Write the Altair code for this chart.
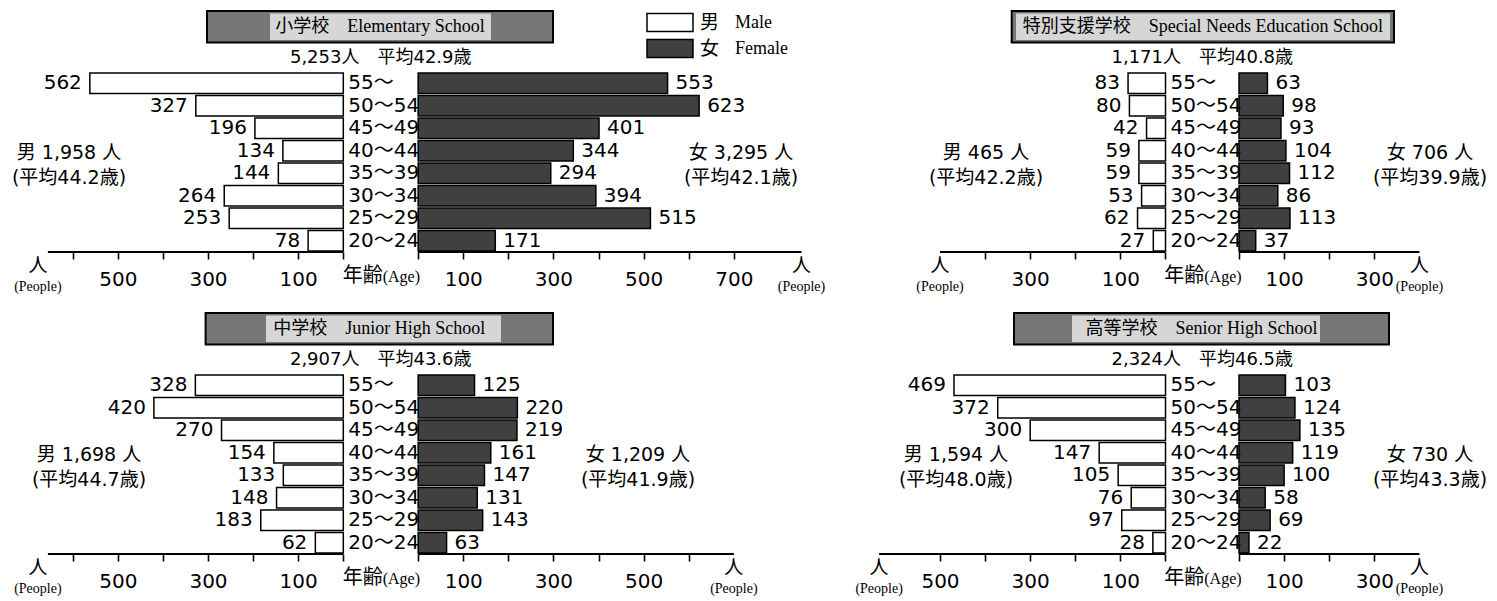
import altair as alt
import pandas as pd

# ---------------- data ----------------
AGES = ["55～", "50～54", "45～49", "40～44", "35～39", "30～34", "25～29", "20～24"]

ELEM_M = [562, 327, 196, 134, 144, 264, 253, 78]
ELEM_F = [553, 623, 401, 344, 294, 394, 515, 171]
SPEC_M = [83, 80, 42, 59, 59, 53, 62, 27]
SPEC_F = [63, 98, 93, 104, 112, 86, 113, 37]
JUN_M = [328, 420, 270, 154, 133, 148, 183, 62]
JUN_F = [125, 220, 219, 161, 147, 131, 143, 63]
SEN_M = [469, 372, 300, 147, 105, 76, 97, 28]
SEN_F = [103, 124, 135, 119, 100, 58, 69, 22]

TITLES_JP = ["小学校", "特別支援学校", "中学校", "高等学校"]
TITLES_EN = ["Elementary School", "Special Needs Education School",
             "Junior High School", "Senior High School"]
SUBTITLES = ["5,253人　平均42.9歳", "1,171人　平均40.8歳",
             "2,907人　平均43.6歳", "2,324人　平均46.5歳"]
MALE_TOTAL = ["男 1,958 人", "男 465 人", "男 1,698 人", "男 1,594 人"]
MALE_AVG = ["(平均44.2歳)", "(平均42.2歳)", "(平均44.7歳)", "(平均48.0歳)"]
FEMALE_TOTAL = ["女 3,295 人", "女 706 人", "女 1,209 人", "女 730 人"]
FEMALE_AVG = ["(平均42.1歳)", "(平均39.9歳)", "(平均41.9歳)", "(平均43.3歳)"]

# axis extents (people) and last tick, per panel: (male, female)
AXIS_EXT = [(655, 850), (500, 400), (655, 700), (635, 400)]
TICK_MAX = [(600, 700), (400, 300), (600, 600), (500, 300)]

# ---------------- layout ----------------
K = 0.451  # px per person
COLS = {
    "L": dict(x0=40.0, x1=812.0, xm=343.3, g=166),
    "R": dict(x0=870.0, x1=1440.0, xm=1165.5, g=163),
}
ROW_TOP = {"T": 71.5, "B": 373.5}
PLOT_H = 180

PANELS = [
    dict(col="L", row="T", m=ELEM_M, f=ELEM_F, box=(207, 553), inner=(270, 491),
         mx=69, fx=741, pdx=-10, legend=True),
    dict(col="R", row="T", m=SPEC_M, f=SPEC_F, box=(1011.7, 1394), inner=(1016, 1390),
         mx=986, fx=1430, pdx=0, legend=False),
    dict(col="L", row="B", m=JUN_M, f=JUN_F, box=(205.6, 553), inner=(266, 501),
         mx=89, fx=638, pdx=-10, legend=False),
    dict(col="R", row="B", m=SEN_M, f=SEN_F, box=(1014, 1389), inner=(1072, 1320),
         mx=956, fx=1430, pdx=0, legend=False),
]

ONE = pd.DataFrame({"k": [0]})
FONT_NUM = "DejaVu Sans, Noto Sans CJK JP"
FONT_SERIF = "Liberation Serif, Noto Sans CJK JP"
FONT_JP = "Noto Sans CJK JP"
FEMALE_FILL = "#404040"


def txt(text, x, y, font, size, align="center", baseline="middle"):
    return alt.Chart(ONE).mark_text(
        text=text, font=font, fontSize=size, align=align, baseline=baseline, color="black"
    ).encode(x=alt.value(x), y=alt.value(y))


def box(x0, y0, x1, y1, fill, stroke=None, sw=0.0):
    kw = dict(fill=fill)
    if stroke:
        kw.update(stroke=stroke, strokeWidth=sw)
    else:
        kw.update(strokeWidth=0)
    return alt.Chart(ONE).mark_rect(**kw).encode(
        x=alt.value(x0), x2=alt.value(x1), y=alt.value(y0), y2=alt.value(y1)
    )


def panel(i):
    p = PANELS[i]
    c = COLS[p["col"]]
    top = ROW_TOP[p["row"]]
    x0, x1, xm, g = c["x0"], c["x1"], c["xm"], c["g"]
    dmin = -(xm - x0) / K
    dmax = (x1 - xm) / K
    width = x1 - x0
    ext_m, ext_f = AXIS_EXT[i]
    tm, tf = TICK_MAX[i]

    def rx(ax):  # absolute px -> plot-relative px
        return ax - x0

    def ry(ay):
        return ay - top

    xs = alt.Scale(domain=[dmin, dmax], nice=False, zero=False)
    ys = alt.Scale(domain=[-0.5, 7.5], reverse=True, nice=False, zero=False)

    df = pd.DataFrame({"age": AGES, "row": list(range(8)), "m": p["m"], "f": p["f"]})

    ticks = [-v for v in range(100, tm + 1, 100)] + [0, g] + [g + v for v in range(100, tf + 1, 100)]
    label_expr = (
        f"datum.value < 0 ? ((-datum.value) % 200 == 100 ? format(-datum.value, 'd') : '') : "
        f"((datum.value - {g}) % 200 == 100 ? format(datum.value - {g}, 'd') : '')"
    )
    axis = alt.Axis(values=ticks, labelExpr=label_expr, domain=False, grid=False,
                    ticks=True, tickSize=7, tickWidth=1.6, tickColor="black",
                    labels=True, labelFont="DejaVu Sans", labelFontSize=20, labelColor="black",
                    labelPadding=10, labelFlush=False, labelOverlap=False, title=None,
                    orient="bottom")

    def X(field):
        return alt.X(field, scale=xs, axis=axis)

    def Y(field):
        return alt.Y(field, scale=ys, axis=None)

    base = alt.Chart(df).transform_calculate(
        xm_="-datum.m", z="0", gf=str(g), xf_=f"{g} + datum.f",
        y0="datum.row - 0.46", y1="datum.row + 0.46"
    )

    male_bars = base.mark_rect(fill="white", stroke="black", strokeWidth=1.5).encode(
        x=X("xm_:Q"), x2="z:Q", y=Y("y0:Q"), y2="y1:Q",
    )
    female_bars = base.mark_rect(fill=FEMALE_FILL, stroke="black", strokeWidth=1.5).encode(
        x=X("gf:Q"), x2="xf_:Q", y=Y("y0:Q"), y2="y1:Q",
    )
    male_lab = base.mark_text(align="right", baseline="middle", dx=-8, font="DejaVu Sans",
                              fontSize=20, color="black").encode(
        x=X("xm_:Q"), y=Y("row:Q"), text="m:Q")
    female_lab = base.mark_text(align="left", baseline="middle", dx=8, font="DejaVu Sans",
                                fontSize=20, color="black").encode(
        x=X("xf_:Q"), y=Y("row:Q"), text="f:Q")
    age_lab = base.mark_text(align="left", baseline="middle", dx=5, font=FONT_NUM,
                             fontSize=20, color="black").encode(
        x=X("z:Q"), y=Y("row:Q"), text="age:N")

    axdf = pd.DataFrame({"a": [-ext_m, g], "b": [0, g + ext_f], "y": [7.5, 7.5]})
    axis_lines = alt.Chart(axdf).mark_rule(color="black", strokeWidth=2).encode(
        x=X("a:Q"), x2="b:Q", y=Y("y:Q"))

    layers = [male_bars, female_bars, male_lab, female_lab, age_lab, axis_lines]

    if i == 0:
        # invisible anchor at the page's top-left corner
        layers.append(box(rx(8), ry(8), rx(9), ry(9), "white"))

    # title box
    bx0, bx1 = p["box"]
    ix0, ix1 = p["inner"]
    layers.append(box(rx(bx0), -61, rx(bx1), -29.5, "#777777", "black", 2))
    layers.append(box(rx(ix0), -58.5, rx(ix1), -32, "#d6d6d6"))
    title_cx = (bx0 + bx1) / 2
    layers.append(txt(TITLES_JP[i] + "　" + TITLES_EN[i], rx(title_cx), -45, FONT_SERIF, 18))

    gap_c = (xm - x0) + g * K / 2
    layers.append(txt(SUBTITLES[i], gap_c, -14.5, FONT_NUM, 18))

    # totals
    layers.append(txt(MALE_TOTAL[i], rx(p["mx"]), 81, FONT_NUM, 19))
    layers.append(txt(MALE_AVG[i], rx(p["mx"]), 106, FONT_NUM, 19))
    layers.append(txt(FEMALE_TOTAL[i], rx(p["fx"]), 81, FONT_NUM, 19))
    layers.append(txt(FEMALE_AVG[i], rx(p["fx"]), 106, FONT_NUM, 19))

    # axis annotations
    layers.append(txt("年齢", gap_c + 2, PLOT_H + 24, FONT_JP, 20, align="right"))
    layers.append(txt("(Age)", gap_c + 2, PLOT_H + 25, "Liberation Serif", 16, align="left"))
    m_end = (xm - x0) - ext_m * K + p["pdx"]
    f_end = (xm - x0) + (g + ext_f) * K
    for xe in (m_end, f_end):
        layers.append(txt("人", xe, PLOT_H + 13.5, FONT_JP, 19))
        layers.append(txt("(People)", xe, PLOT_H + 34.5, "Liberation Serif", 14))

    if p["legend"]:
        layers.append(box(rx(647), ry(13), rx(693), ry(31), "white", "black", 1.5))
        layers.append(box(rx(647), ry(39), rx(693), ry(57), FEMALE_FILL, "black", 1.5))
        layers.append(txt("男", rx(700), ry(22), FONT_JP, 19, align="left"))
        layers.append(txt("Male", rx(735), ry(22), "Liberation Serif", 18, align="left"))
        layers.append(txt("女", rx(700), ry(48), FONT_JP, 19, align="left"))
        layers.append(txt("Female", rx(735), ry(48), "Liberation Serif", 18, align="left"))

    return alt.layer(*layers).properties(width=width, height=PLOT_H)


charts = [panel(i) for i in range(4)]
col_gap = COLS["R"]["x0"] - COLS["L"]["x1"]
row_gap = ROW_TOP["B"] - (ROW_TOP["T"] + PLOT_H)

chart = alt.concat(
    *charts, columns=2, bounds="flush",
    spacing={"row": row_gap, "column": col_gap},
).properties(padding=0).configure_view(strokeWidth=0)

chart.save("out.html", embed_options={"renderer": "svg", "actions": False})
